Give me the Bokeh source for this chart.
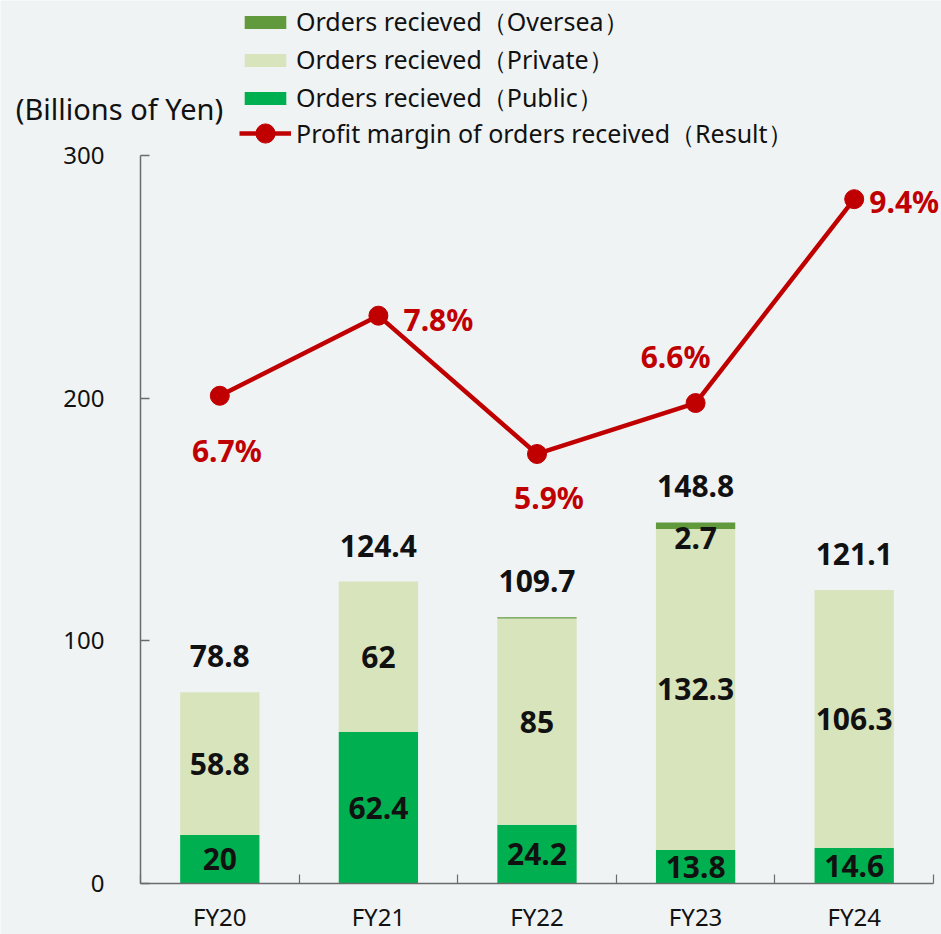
from bokeh.plotting import figure
from bokeh.models import (ColumnDataSource, Range1d, FixedTicker, Legend, LegendItem, Label)
from bokeh.embed import file_html
from bokeh.resources import INLINE
from bokeh.core.properties import value

# ---- data ----
years = ["FY20", "FY21", "FY22", "FY23", "FY24"]
public = [20, 62.4, 24.2, 13.8, 14.6]
private = [58.8, 62, 85, 132.3, 106.3]
oversea = [0, 0, 0.5, 2.7, 0]
totals = [78.8, 124.4, 109.7, 148.8, 121.1]
margin = [6.7, 7.8, 5.9, 6.6, 9.4]
y_ticks = [0, 100, 200, 300]
y_max = 300
pct_max = 10

# ---- styles / layout ----
BG = "#eff3f4"
C_PUB = "#00b050"
C_PRI = "#d8e4bc"
C_OVS = "#619a3c"
C_RED = "#c00000"
FONT = "Noto Sans"
AXIS_C = "#6b6b6b"
W, H = 941, 934
# pixel placement of the plotting area inside the canvas
PX_L, PX_R, PX_B, PX_T = 140, 933, 883, 155

n = len(years)
xs = [i + 0.5 for i in range(n)]
fmt = lambda v: f"{v:g}"

xu = n / (PX_R - PX_L)          # data units per pixel
yu = y_max / (PX_B - PX_T)
x_rng = Range1d(-PX_L * xu, n + (W - PX_R) * xu)
y_rng = Range1d(-(H - PX_B) * yu, y_max + PX_T * yu)
k = pct_max / y_max

p = figure(width=W, height=H, x_range=x_rng, y_range=y_rng,
           output_backend="svg", toolbar_location=None,
           min_border=0, min_border_left=0, min_border_right=0,
           min_border_top=0, min_border_bottom=0)
p.extra_y_ranges = {"pct": Range1d(y_rng.start * k, y_rng.end * k)}
p.background_fill_color = BG
p.border_fill_color = BG
p.outline_line_color = None
p.xgrid.visible = False
p.ygrid.visible = False

src = ColumnDataSource(dict(x=xs, public=public, private=private, oversea=oversea))
bars = p.vbar_stack(["public", "private", "oversea"], x="x", width=0.5, source=src,
                    color=[C_PUB, C_PRI, C_OVS], line_color=None)

line_r = p.line(xs, margin, y_range_name="pct", line_width=4.5, color=C_RED)
dot_r = p.scatter(xs, margin, y_range_name="pct", size=19, color=C_RED)

# axes
ya = p.yaxis[0]
ya.fixed_location = 0
ya.bounds = (0, y_max)
ya.ticker = FixedTicker(ticks=y_ticks)
ya.major_tick_in = 9
ya.major_tick_out = 0
ya.minor_tick_line_color = None
ya.axis_line_color = AXIS_C
ya.axis_line_width = 1.5
ya.major_tick_line_color = AXIS_C
ya.major_tick_line_width = 1.5
ya.major_label_standoff = 36
ya.major_label_text_font = FONT
ya.major_label_text_font_size = "24px"
ya.major_label_text_color = "#111111"

xa = p.xaxis[0]
xa.fixed_location = 0
xa.bounds = (0, n)
xa.ticker = FixedTicker(ticks=xs, minor_ticks=list(range(n + 1)))
xa.major_label_overrides = {x: y for x, y in zip(xs, years)}
xa.major_tick_in = 0
xa.major_tick_out = 0
xa.minor_tick_in = 9
xa.minor_tick_out = 0
xa.minor_tick_line_color = AXIS_C
xa.minor_tick_line_width = 1.2
xa.axis_line_color = AXIS_C
xa.axis_line_width = 1.5
xa.major_label_standoff = 16
xa.major_label_text_font = FONT
xa.major_label_text_font_size = "24px"
xa.major_label_text_color = "#111111"

# bar labels
lab_kw = dict(text_align="center", text_baseline="middle", text_font=value(FONT),
              text_font_style="bold", text_font_size="30px", text_color="#111111")
p.text(xs, [v / 2 for v in public], text=[fmt(v) for v in public], **lab_kw)
p.text(xs, [a + b / 2 for a, b in zip(public, private)], text=[fmt(v) for v in private], **lab_kw)
p.text(xs, totals, text=[fmt(v) for v in totals], y_offset=-36, **lab_kw)
ov_idx = [i for i, v in enumerate(oversea) if v >= 1]
p.text([xs[i] for i in ov_idx], [public[i] + private[i] for i in ov_idx],
       text=[fmt(oversea[i]) for i in ov_idx], y_offset=9, **lab_kw)

# percent labels
pct_dx = [7, 60, 12, -20, 50]
pct_dy = [55, 4, 44, -47, 2]
psrc = ColumnDataSource(dict(x=xs, y=margin, t=[f"{v:.1f}%" for v in margin], dx=pct_dx, dy=pct_dy))
p.text("x", "y", text="t", x_offset="dx", y_offset="dy", source=psrc, y_range_name="pct",
       text_align="center", text_baseline="middle", text_font=value(FONT),
       text_font_style="bold", text_font_size="30px", text_color=C_RED)

# unit label
p.add_layout(Label(x=119, y=H - 108, x_units="screen", y_units="screen", text="(Billions of Yen)",
                   text_align="center", text_baseline="middle", text_font=FONT,
                   text_font_size="29px", text_color="#111111"))

leg_kw = dict(orientation="vertical", glyph_width=52,
              label_text_font=FONT, label_text_font_size="25px", label_text_color="#111111",
              label_standoff=5, padding=0, margin=0,
              border_line_color=None, background_fill_alpha=0)
legend = Legend(items=[
    LegendItem(label="Orders recieved（Oversea）", renderers=[bars[2]]),
    LegendItem(label="Orders recieved（Private）", renderers=[bars[1]]),
    LegendItem(label="Orders recieved（Public）", renderers=[bars[0]]),
], location=(239, H - 115), glyph_height=16, label_height=26, spacing=3, **leg_kw)
p.add_layout(legend, "center")

legend2 = Legend(items=[
    LegendItem(label="Profit margin of orders received（Result）", renderers=[line_r, dot_r]),
], location=(239, H - 157), glyph_height=48, label_height=26, spacing=0, **leg_kw)
p.add_layout(legend2, "center")

open("out.html", "w").write(file_html(p, INLINE))
